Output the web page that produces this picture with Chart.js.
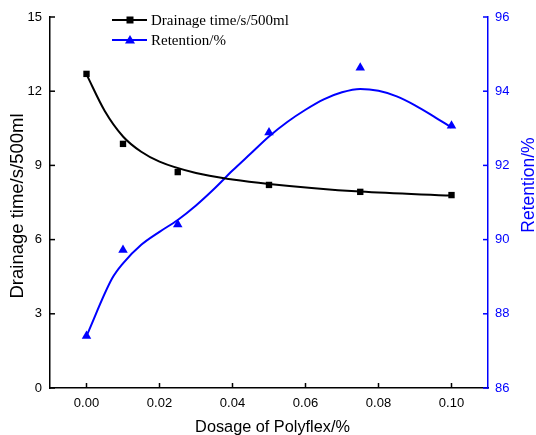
<!DOCTYPE html>
<html>
<head>
<meta charset="utf-8">
<script src="https://cdn.jsdelivr.net/npm/chart.js@4/dist/chart.umd.min.js"></script>
<style>
  html, body { margin: 0; padding: 0; background: #fff; }
  #wrap { width: 536px; height: 435px; }
</style>
</head>
<body>
<div id="wrap"><canvas id="chart" width="536" height="435"></canvas></div>
<script>
// measured points
let dosage = [0, 0.01, 0.025, 0.05, 0.075, 0.1]
let drainage = [12.7, 9.87, 8.73, 8.21, 7.93, 7.8]
let retention = [87.4, 89.72, 90.41, 92.89, 94.63, 93.07]

// fitted curves
let drainFitX = [0, 0.005, 0.01, 0.015, 0.02, 0.03, 0.04, 0.05, 0.075, 0.1]
let drainFitY = [12.68, 11.2, 10.17, 9.55, 9.15, 8.69, 8.43, 8.25, 7.94, 7.78]
let retFitX = [0, 0.007, 0.01, 0.015, 0.02, 0.025, 0.03, 0.035, 0.04, 0.045, 0.05, 0.055, 0.06, 0.065, 0.07, 0.075, 0.08, 0.085, 0.09, 0.095, 0.1]
let retFitY = [87.4, 88.95, 89.36, 89.86, 90.21, 90.53, 90.92, 91.37, 91.86, 92.32, 92.78, 93.17, 93.5, 93.78, 93.97, 94.06, 94.01, 93.86, 93.62, 93.33, 93.02]

let xTicks = [0, 0.02, 0.04, 0.06, 0.08, 0.1]
let yLeftTicks = [0, 3, 6, 9, 12, 15]
let yRightTicks = [86, 88, 90, 92, 94, 96]

let toXY = (xs, ys) => xs.map((x, i) => ({x: x, y: ys[i]}))

const BLUE = '#0000ff'
const SANS = '"Liberation Sans", Arial, sans-serif'
const tickFont = {family: SANS, size: 13}

// inward tick marks, axis titles, legend
const decor = {
    id: 'decor',
    afterDraw(chart) {
        let ctx = chart.ctx
        let a = chart.chartArea
        ctx.save()
        ctx.lineWidth = 1.5
        let xs = chart.scales.x
        ctx.strokeStyle = '#000'
        xTicks.forEach(v => {
            let px = xs.getPixelForValue(v)
            ctx.beginPath(); ctx.moveTo(px, a.bottom); ctx.lineTo(px, a.bottom - 5); ctx.stroke()
        })
        let yl = chart.scales.y
        yLeftTicks.forEach(v => {
            let py = yl.getPixelForValue(v)
            ctx.beginPath(); ctx.moveTo(a.left, py); ctx.lineTo(a.left + 5, py); ctx.stroke()
        })
        let yr = chart.scales.y2
        ctx.strokeStyle = BLUE
        yRightTicks.forEach(v => {
            let py = yr.getPixelForValue(v)
            ctx.beginPath(); ctx.moveTo(a.right, py); ctx.lineTo(a.right - 5, py); ctx.stroke()
        })

        // axis titles
        ctx.textAlign = 'center'
        ctx.textBaseline = 'alphabetic'
        ctx.fillStyle = '#000'
        ctx.font = '16.3px ' + SANS
        ctx.fillText('Dosage of Polyflex/%', 272.5, 431.5)

        ctx.save()
        ctx.translate(23, 206)
        ctx.rotate(-Math.PI / 2)
        ctx.font = '18.5px ' + SANS
        ctx.fillText('Drainage time/s/500ml', 0, 0)
        ctx.restore()

        ctx.save()
        ctx.translate(533.5, 185)
        ctx.rotate(-Math.PI / 2)
        ctx.fillStyle = BLUE
        ctx.font = '17.5px ' + SANS
        ctx.fillText('Retention/%', 0, 0)
        ctx.restore()

        // legend
        let items = [
            {label: 'Drainage time/s/500ml', color: '#000', shape: 'square', y: 20},
            {label: 'Retention/%', color: BLUE, shape: 'tri', y: 40}
        ]
        items.forEach(it => {
            ctx.strokeStyle = it.color
            ctx.fillStyle = it.color
            ctx.lineWidth = 2
            ctx.beginPath(); ctx.moveTo(112, it.y); ctx.lineTo(147, it.y); ctx.stroke()
            let cx = 130
            ctx.beginPath()
            if (it.shape === 'square') {
                ctx.rect(cx - 3.5, it.y - 3.5, 7, 7)
            } else {
                ctx.moveTo(cx, it.y - 5); ctx.lineTo(cx + 5, it.y + 3.5); ctx.lineTo(cx - 5, it.y + 3.5); ctx.closePath()
            }
            ctx.fill()
            ctx.fillStyle = '#000'
            ctx.font = '15px "Liberation Serif", "Times New Roman", serif'
            ctx.textBaseline = 'middle'
            ctx.textAlign = 'left'
            ctx.fillText(it.label, 151, it.y + 1)
        })
        ctx.restore()
    }
}

new Chart(document.getElementById('chart'), {
    type: 'scatter',
    data: {
        datasets: [
            {
                label: 'Drainage fit',
                data: toXY(drainFitX, drainFitY),
                showLine: true,
                borderColor: '#000',
                borderWidth: 2,
                pointRadius: 0,
                cubicInterpolationMode: 'monotone',
                yAxisID: 'y'
            },
            {
                label: 'Retention fit',
                data: toXY(retFitX, retFitY),
                showLine: true,
                borderColor: BLUE,
                borderWidth: 2,
                pointRadius: 0,
                cubicInterpolationMode: 'monotone',
                yAxisID: 'y2'
            },
            {
                label: 'Drainage time/s/500ml',
                data: toXY(dosage, drainage),
                pointStyle: 'rect',
                pointRadius: 4.5,
                backgroundColor: '#000',
                borderColor: '#000',
                borderWidth: 0,
                yAxisID: 'y'
            },
            {
                label: 'Retention/%',
                data: toXY(dosage, retention),
                pointStyle: 'triangle',
                pointRadius: 5.5,
                backgroundColor: BLUE,
                borderColor: BLUE,
                borderWidth: 0,
                yAxisID: 'y2'
            }
        ]
    },
    options: {
        responsive: false,
        animation: false,
        layout: {padding: {top: 17, left: 0, right: 0, bottom: 0}},
        plugins: {legend: {display: false}, tooltip: {enabled: false}},
        scales: {
            x: {
                type: 'linear',
                min: -0.01,
                max: 0.11,
                afterBuildTicks: s => { s.ticks = xTicks.map(v => ({value: v})) },
                afterFit: s => { s.height = 47 },
                grid: {display: true, drawOnChartArea: false, drawTicks: false},
                border: {color: '#000', width: 1.5},
                ticks: {color: '#000', font: tickFont, padding: 8, maxRotation: 0,
                    callback: v => Number(v).toFixed(2)}
            },
            y: {
                position: 'left',
                min: 0,
                max: 15,
                afterBuildTicks: s => { s.ticks = yLeftTicks.map(v => ({value: v})) },
                afterFit: s => { s.width = 50 },
                grid: {display: true, drawOnChartArea: false, drawTicks: false},
                border: {color: '#000', width: 1.5},
                ticks: {color: '#000', font: tickFont, padding: 8}
            },
            y2: {
                position: 'right',
                min: 86,
                max: 96,
                afterBuildTicks: s => { s.ticks = yRightTicks.map(v => ({value: v})) },
                afterFit: s => { s.width = 48 },
                grid: {display: true, drawOnChartArea: false, drawTicks: false},
                border: {color: BLUE, width: 1.5},
                ticks: {color: BLUE, font: tickFont, padding: 7}
            }
        }
    },
    plugins: [decor]
})
</script>
</body>
</html>
